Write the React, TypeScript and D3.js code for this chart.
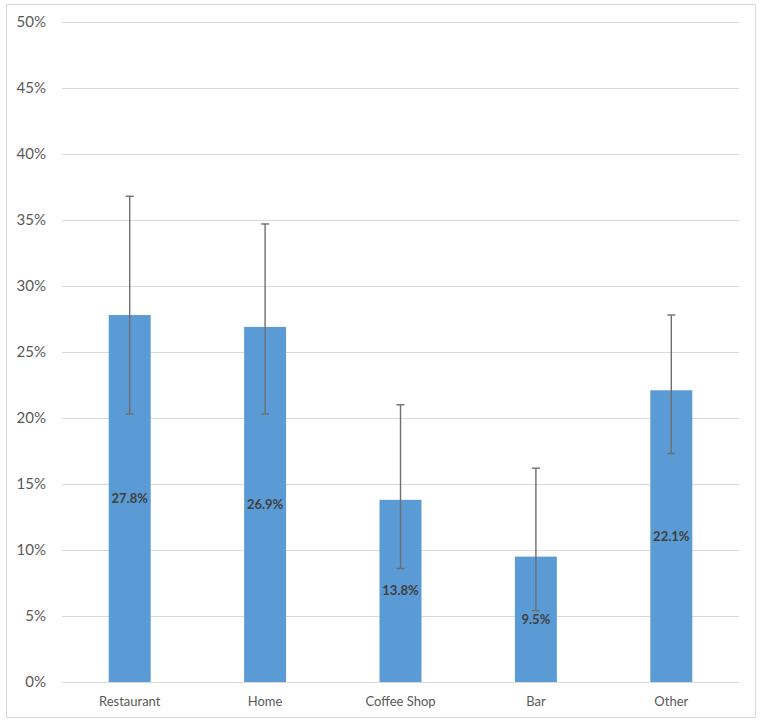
import React, { useEffect, useRef } from 'react';
import * as d3 from 'd3';

const categories = ['Restaurant', 'Home', 'Coffee Shop', 'Bar', 'Other'];
const values = [27.8, 26.9, 13.8, 9.5, 22.1];
const errLow = [20.3, 20.3, 8.6, 5.4, 17.3];
const errHigh = [36.8, 34.7, 21.0, 16.2, 27.8];
const yTicks = [0, 5, 10, 15, 20, 25, 30, 35, 40, 45, 50];

function App() {
  const chartRef = useRef<SVGSVGElement>(null);

  useEffect(() => {
    const svg = d3.select(chartRef.current);
    svg.selectAll('*').remove();

    const width = 760;
    const height = 726;
    const left = 62, right = 739, top = 22, bottom = 682;
    const font = 'Lato, "Open Sans", sans-serif';

    svg.append('rect')
      .attr('x', 6.5).attr('y', 4.5)
      .attr('width', 749).attr('height', 713)
      .attr('fill', '#fff')
      .attr('stroke', '#d9d9d9');

    const x = d3.scaleBand()
      .domain(categories)
      .range([left, right])
      .paddingInner(0.69)
      .paddingOuter(0.345);

    const y = d3.scaleLinear()
      .domain([0, 50])
      .range([bottom, top]);

    // gridlines
    svg.append('g')
      .selectAll('line')
      .data(yTicks)
      .enter().append('line')
      .attr('x1', left).attr('x2', right)
      .attr('y1', d => Math.round(y(d)) + 0.5)
      .attr('y2', d => Math.round(y(d)) + 0.5)
      .attr('stroke', '#d9d9d9')
      .attr('stroke-width', 1);

    // y tick labels
    svg.append('g')
      .selectAll('text')
      .data(yTicks)
      .enter().append('text')
      .attr('x', 46)
      .attr('y', d => y(d))
      .attr('dy', '0.35em')
      .attr('text-anchor', 'end')
      .attr('font-family', font)
      .attr('font-size', 15)
      .attr('fill', '#595959')
      .text(d => d + '%');

    // bars
    svg.append('g')
      .selectAll('rect')
      .data(values)
      .enter().append('rect')
      .attr('x', (d, i) => x(categories[i])!)
      .attr('y', d => y(d))
      .attr('width', x.bandwidth())
      .attr('height', d => y(0) - y(d))
      .attr('fill', '#5b9bd5');

    // error bars
    const eb = svg.append('g')
      .attr('stroke', '#6e6e6e')
      .attr('stroke-width', 1.4);
    categories.forEach((c, i) => {
      const cx = x(c)! + x.bandwidth() / 2;
      eb.append('line')
        .attr('x1', cx).attr('x2', cx)
        .attr('y1', y(errLow[i])).attr('y2', y(errHigh[i]));
      [errLow[i], errHigh[i]].forEach(v => {
        eb.append('line')
          .attr('x1', cx - 4).attr('x2', cx + 4)
          .attr('y1', y(v)).attr('y2', y(v));
      });
    });

    // data labels
    svg.append('g')
      .selectAll('text')
      .data(values)
      .enter().append('text')
      .attr('x', (d, i) => x(categories[i])! + x.bandwidth() / 2)
      .attr('y', d => y(d / 2))
      .attr('dy', '0.35em')
      .attr('text-anchor', 'middle')
      .attr('font-family', font)
      .attr('font-size', 13)
      .attr('font-weight', 'bold')
      .attr('fill', '#404040')
      .text(d => d.toFixed(1) + '%');

    // category labels
    svg.append('g')
      .selectAll('text')
      .data(categories)
      .enter().append('text')
      .attr('x', d => x(d)! + x.bandwidth() / 2)
      .attr('y', 701)
      .attr('dy', '0.35em')
      .attr('text-anchor', 'middle')
      .attr('font-family', font)
      .attr('font-size', 13)
      .attr('fill', '#595959')
      .text(d => d);

    svg.attr('width', width).attr('height', height);
  }, []);

  return (
    <svg ref={chartRef} width={760} height={726}
      style={{ position: 'absolute', left: 0, top: 0, display: 'block' }} />
  );
}

export default App;
